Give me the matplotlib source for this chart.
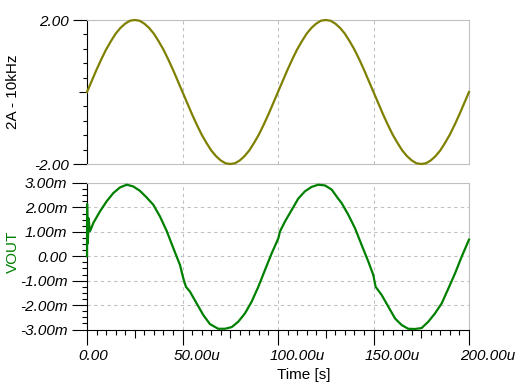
"""Two-trace transient plot: 2A/10kHz source current and VOUT."""

import matplotlib

matplotlib.use("Agg")
import matplotlib.pyplot as plt
import matplotlib.transforms as mtransforms
from matplotlib.ticker import FixedLocator, FuncFormatter

# Source trace, time in us, amplitude in A
src_time_us = [
    0.0, 2.5, 5.0, 7.5, 10.0, 12.5, 15.0, 17.5, 20.0, 22.5,
    25.0, 27.5, 30.0, 32.5, 35.0, 37.5, 40.0, 42.5, 45.0, 47.5,
    50.0, 52.5, 55.0, 57.5, 60.0, 62.5, 65.0, 67.5, 70.0, 72.5,
    75.0, 77.5, 80.0, 82.5, 85.0, 87.5, 90.0, 92.5, 95.0, 97.5,
    100.0, 102.5, 105.0, 107.5, 110.0, 112.5, 115.0, 117.5, 120.0, 122.5,
    125.0, 127.5, 130.0, 132.5, 135.0, 137.5, 140.0, 142.5, 145.0, 147.5,
    150.0, 152.5, 155.0, 157.5, 160.0, 162.5, 165.0, 167.5, 170.0, 172.5,
    175.0, 177.5, 180.0, 182.5, 185.0, 187.5, 190.0, 192.5, 195.0, 197.5,
    200.0,
]
src_amp = [
    0.00, 0.31, 0.62, 0.91, 1.18, 1.41, 1.62, 1.78, 1.90, 1.98,
    2.00, 1.98, 1.90, 1.78, 1.62, 1.41, 1.18, 0.91, 0.62, 0.31,
    0.00, -0.31, -0.62, -0.91, -1.18, -1.41, -1.62, -1.78, -1.90, -1.98,
    -2.00, -1.98, -1.90, -1.78, -1.62, -1.41, -1.18, -0.91, -0.62, -0.31,
    0.00, 0.31, 0.62, 0.91, 1.18, 1.41, 1.62, 1.78, 1.90, 1.98,
    2.00, 1.98, 1.90, 1.78, 1.62, 1.41, 1.18, 0.91, 0.62, 0.31,
    0.00, -0.31, -0.62, -0.91, -1.18, -1.41, -1.62, -1.78, -1.90, -1.98,
    -2.00, -1.98, -1.90, -1.78, -1.62, -1.41, -1.18, -0.91, -0.62, -0.31,
    0.00,
]

# VOUT trace, time in us, voltage in mV
vout_time_us = [
    0.0, 0.05, 0.4, 0.9, 1.4, 2.0, 3.3, 6.8, 10.3, 13.8, 17.3, 20.8, 24.2,
    27.7, 31.2, 34.7, 38.2, 41.7, 45.2, 48.7, 50.4, 51.8, 53.9, 57.4, 60.9,
    64.4, 68.7, 72.3, 75.8, 79.2, 82.7, 86.2, 89.7, 93.2, 96.7, 100.2, 101.0,
    103.7, 107.2, 110.6, 114.1, 117.6, 121.1, 124.6, 128.1, 131.6, 133.3,
    136.8, 140.3, 143.8, 147.3, 149.9, 151.1, 154.3, 157.8, 161.3, 164.8,
    168.2, 171.7, 175.2, 178.7, 182.2, 185.7, 189.2, 192.7, 196.2, 200.0,
]
vout_mv = [
    0.00, 2.14, 0.52, 1.55, 1.02, 1.10, 1.36, 1.84, 2.25, 2.59, 2.82, 2.93, 2.86,
    2.68, 2.41, 2.11, 1.63, 1.04, 0.33, -0.36, -0.90, -1.25, -1.45, -1.93, -2.41,
    -2.78, -2.97, -2.97, -2.90, -2.68, -2.34, -1.86, -1.25, -0.56, 0.12, 0.74, 1.01,
    1.43, 1.90, 2.36, 2.66, 2.84, 2.93, 2.90, 2.73, 2.35, 2.18,
    1.70, 1.15, 0.46, -0.22, -0.77, -1.25, -1.59, -2.07, -2.55, -2.82,
    -2.97, -2.98, -2.94, -2.68, -2.34, -1.93, -1.32, -0.70, -0.01, 0.68,
]

time_ticks_us = [0, 50, 100, 150, 200]
vout_ticks_mv = [-3, -2, -1, 0, 1, 2, 3]

GRID = "#c0c0c0"
OLIVE = "#808000"
GREEN = "#008000"
PX = 1 / 100  # one pixel in inches at dpi=100

plt.rcParams["font.family"] = ["Liberation Sans", "DejaVu Sans"]
plt.rcParams["font.size"] = 11


def fmt_unit(unit):
    """Tick formatter in the simulator style: 0.00, 50.00u, -1.00m."""

    def fmt(v, _pos):
        if abs(v) < 1e-9:
            return "0.00"
        return f"{v:.2f}{unit}"

    return FuncFormatter(fmt)


def style_frame(ax, bottom_color):
    ax.spines["top"].set_color(GRID)
    ax.spines["right"].set_color(GRID)
    ax.spines["left"].set_color("black")
    ax.spines["bottom"].set_color(bottom_color)
    for sp in ax.spines.values():
        sp.set_linewidth(0.8)


def plot_source(ax):
    ax.plot(src_time_us, src_amp, color=OLIVE, lw=1.6, zorder=3, clip_on=False)
    ax.set_xlim(0, 200)
    ax.set_ylim(-2, 2)
    style_frame(ax, GRID)

    ax.set_xticks([50, 100, 150])
    ax.tick_params(axis="x", length=0, labelbottom=False)
    ax.grid(axis="x", color=GRID, ls=(0, (3, 3)), lw=0.8)

    ax.set_yticks([-2, 2])
    ax.yaxis.set_major_formatter(fmt_unit(""))
    ax.yaxis.set_minor_locator(FixedLocator([-1.6, -1.2, -0.8, -0.4, 0.4, 0.8, 1.2, 1.6]))
    ax.tick_params(axis="y", which="major", length=10, width=0.8, pad=3, labelsize=11)
    ax.tick_params(axis="y", which="minor", length=3, width=0.8)
    for lbl in ax.get_yticklabels():
        lbl.set_fontstyle("italic")

    # zero tick is mid-length
    sec = ax.secondary_yaxis("left")
    sec.set_yticks([0])
    sec.tick_params(length=6, width=0.8, labelleft=False)
    sec.spines["left"].set_visible(False)

    ax.set_ylabel("2A - 10kHz", fontsize=11)
    ax.yaxis.set_label_coords(-0.194, 0.5)
    ax.yaxis.label.set_va("center")


def plot_vout(ax):
    ax.plot(vout_time_us, vout_mv, color=GREEN, lw=1.6, zorder=3, clip_on=False)
    ax.set_xlim(0, 200)
    ax.set_ylim(-3, 3)
    style_frame(ax, "black")

    ax.set_xticks(time_ticks_us)
    ax.xaxis.set_major_formatter(fmt_unit("u"))
    ax.xaxis.set_minor_locator(FixedLocator([t for t in range(5, 200, 5) if t % 25]))
    ax.set_yticks(vout_ticks_mv)
    ax.yaxis.set_major_formatter(fmt_unit("m"))
    ax.yaxis.set_minor_locator(FixedLocator([v / 4 for v in range(-12, 13) if v % 4]))

    ax.tick_params(axis="both", which="major", length=11, width=0.8, pad=3, labelsize=11)
    ax.tick_params(axis="both", which="minor", length=3.5, width=0.8)
    ax.grid(which="major", color=GRID, ls=(0, (3, 3)), lw=0.8)

    offset = mtransforms.ScaledTranslation(-8.5 * PX, 0, ax.figure.dpi_scale_trans)
    for lbl in ax.get_xticklabels():
        lbl.set_fontstyle("italic")
        lbl.set_horizontalalignment("left")
        lbl.set_transform(lbl.get_transform() + offset)
    for lbl in ax.get_yticklabels():
        lbl.set_fontstyle("italic")

    # quarter ticks on the time axis are mid-length
    sec = ax.secondary_xaxis("bottom")
    sec.set_xticks([25, 75, 125, 175])
    sec.tick_params(length=5.5, width=0.8, labelbottom=False)
    sec.spines["bottom"].set_visible(False)

    ax.set_ylabel("VOUT", color=GREEN, fontsize=11)
    ax.yaxis.set_label_coords(-0.194, 0.53)
    ax.yaxis.label.set_va("center")
    ax.set_xlabel("Time [s]", fontsize=11)
    ax.xaxis.set_label_coords(0.567, -0.31)
    ax.xaxis.label.set_va("center")


def main():
    fig = plt.figure(figsize=(5.2, 3.9), dpi=100)
    ax_src = fig.add_axes([87 / 520, 1 - 164 / 390, 382 / 520, 144 / 390])
    ax_out = fig.add_axes([87 / 520, 1 - 329.5 / 390, 382 / 520, 146.5 / 390])
    plot_source(ax_src)
    plot_vout(ax_out)
    fig.savefig("out.png", dpi=100)


if __name__ == "__main__":
    main()
